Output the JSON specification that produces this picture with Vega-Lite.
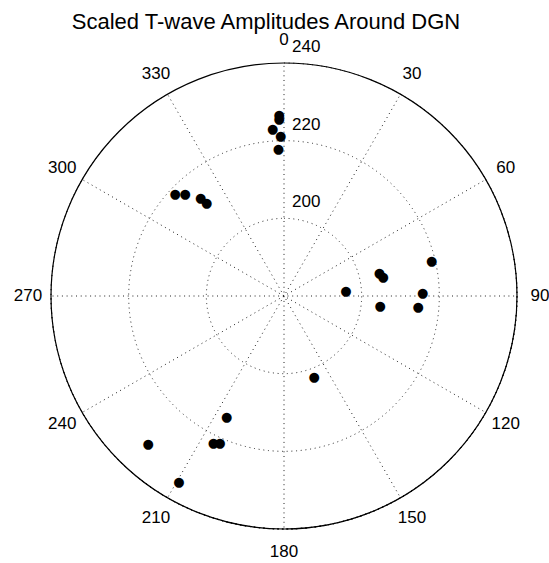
{
  "$schema": "https://vega.github.io/schema/vega-lite/v6.json",
  "width": 530,
  "height": 534,
  "autosize": {"type": "none"},
  "padding": {"left": 19, "top": 29, "right": 0, "bottom": 0},
  "background": "white",
  "config": {"view": {"stroke": null}, "text": {"font": "Liberation Sans"}},
  "title": {"text": "Scaled T-wave Amplitudes Around DGN", "font": "Liberation Sans", "fontSize": 22, "fontWeight": "normal", "color": "#000", "anchor": "middle", "frame": "group", "dx": -18, "dy": 24, "baseline": "alphabetic", "offset": 2},
  "datasets": {
    "points": [
      {"az": 358.5, "amp": 226.6}, {"az": 358.4, "amp": 225.5}, {"az": 356.1, "amp": 223.0},
      {"az": 358.8, "amp": 221.2}, {"az": 357.8, "amp": 217.8}, {"az": 313.1, "amp": 218.4},
      {"az": 315.9, "amp": 216.6}, {"az": 319.7, "amp": 213.2}, {"az": 320.2, "amp": 211.1},
      {"az": 76.6, "amp": 219.1}, {"az": 76.3, "amp": 205.3}, {"az": 79.3, "amp": 206.0},
      {"az": 85.7, "amp": 196.0}, {"az": 88.6, "amp": 215.7}, {"az": 95.9, "amp": 204.9},
      {"az": 94.8, "amp": 214.7}, {"az": 159.6, "amp": 202.3}, {"az": 205.4, "amp": 214.4},
      {"az": 222.5, "amp": 231.8}, {"az": 205.7, "amp": 221.9}, {"az": 203.6, "amp": 221.2},
      {"az": 209.5, "amp": 234.9}
    ],
    "spokes": [
      {"a": 0, "a2": 180}, {"a": 30, "a2": 210}, {"a": 60, "a2": 240},
      {"a": 90, "a2": 270}, {"a": 120, "a2": 300}, {"a": 150, "a2": 330}
    ],
    "angleLabels": [
      {"a": 0, "lab": "0"}, {"a": 30, "lab": "30"}, {"a": 60, "lab": "60"}, {"a": 90, "lab": "90"},
      {"a": 120, "lab": "120"}, {"a": 150, "lab": "150"}, {"a": 180, "lab": "180"}, {"a": 210, "lab": "210"},
      {"a": 240, "lab": "240"}, {"a": 270, "lab": "270"}, {"a": 300, "lab": "300"}, {"a": 330, "lab": "330"}
    ],
    "radialLabels": [{"r": 200, "lab": "200"}, {"r": 220, "lab": "220"}, {"r": 240, "lab": "240"}]
  },
  "layer": [
    {
      "data": {"name": "spokes"},
      "mark": {"type": "arc", "filled": false, "stroke": "#222", "strokeWidth": 1, "strokeDash": [1, 3.7]},
      "encoding": {
        "theta": {"field": "a", "type": "quantitative", "scale": {"domain": [0, 360]}},
        "theta2": {"field": "a2"},
        "radius": {"datum": 240, "type": "quantitative", "scale": {"type": "linear", "domain": [180, 240], "range": [0, 233], "zero": false}}
      }
    },
    {
      "data": {"values": [{"r": 200}]},
      "mark": {"type": "arc", "filled": false, "stroke": "#222", "strokeWidth": 1, "strokeDash": [1, 3.7]},
      "encoding": {
        "theta": {"datum": 0, "type": "quantitative", "scale": {"domain": [0, 360]}},
        "theta2": {"datum": 360},
        "radius": {"field": "r", "type": "quantitative", "scale": {"type": "linear", "domain": [180, 240], "range": [0, 233], "zero": false}}
      }
    },
    {
      "data": {"values": [{"r": 220}]},
      "mark": {"type": "arc", "filled": false, "stroke": "#222", "strokeWidth": 1, "strokeDash": [1, 3.7]},
      "encoding": {
        "theta": {"datum": 0, "type": "quantitative", "scale": {"domain": [0, 360]}},
        "theta2": {"datum": 360},
        "radius": {"field": "r", "type": "quantitative", "scale": {"type": "linear", "domain": [180, 240], "range": [0, 233], "zero": false}}
      }
    },
    {
      "data": {"values": [{"r": 240}]},
      "mark": {"type": "arc", "filled": false, "stroke": "#000", "strokeWidth": 1.2},
      "encoding": {
        "theta": {"datum": 0, "type": "quantitative", "scale": {"domain": [0, 360]}},
        "theta2": {"datum": 360},
        "radius": {"field": "r", "type": "quantitative", "scale": {"type": "linear", "domain": [180, 240], "range": [0, 233], "zero": false}}
      }
    },
    {
      "data": {"name": "angleLabels"},
      "mark": {"type": "text", "radius": 256, "fontSize": 17, "font": "Liberation Sans", "align": "center", "baseline": "middle", "color": "#000"},
      "encoding": {
        "theta": {"field": "a", "type": "quantitative", "scale": {"domain": [0, 360]}, "stack": null},
        "text": {"field": "lab"}
      }
    },
    {
      "data": {"name": "radialLabels"},
      "mark": {"type": "text", "fontSize": 17, "font": "Liberation Sans", "align": "left", "baseline": "middle", "dx": 8, "dy": -16, "color": "#000"},
      "encoding": {
        "theta": {"datum": 0, "type": "quantitative", "scale": {"domain": [0, 360]}},
        "radius": {"field": "r", "type": "quantitative", "scale": {"type": "linear", "domain": [180, 240], "range": [0, 233], "zero": false}},
        "text": {"field": "lab"}
      }
    },
    {
      "data": {"name": "points"},
      "mark": {"type": "text", "text": "●", "font": "DejaVu Sans", "fontSize": 13, "align": "center", "baseline": "middle", "color": "#000"},
      "encoding": {
        "theta": {"field": "az", "type": "quantitative", "scale": {"domain": [0, 360]}, "stack": null},
        "radius": {"field": "amp", "type": "quantitative", "scale": {"type": "linear", "domain": [180, 240], "range": [0, 233], "zero": false}}
      }
    }
  ]
}
